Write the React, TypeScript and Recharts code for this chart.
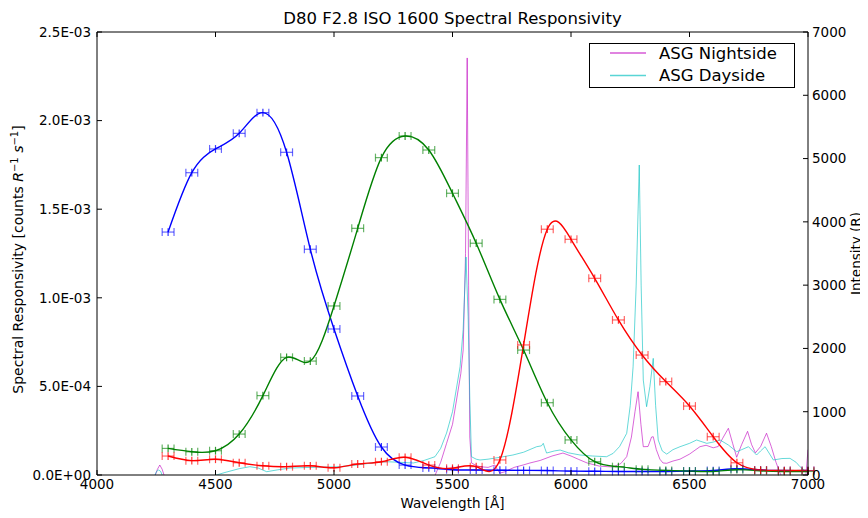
import React from "react";
import {
  ComposedChart, Line, Scatter, ErrorBar, XAxis, YAxis, Label, Legend,
} from "recharts";

const FONT = "DejaVu Sans";

// plot frame inside the 860x510 chart (page is offset by the 8px body margin)
const L = 89, R = 800, T = 24, B = 467;

// measured points, every 100 Å (responsivity in units of 1E-3)
const wavelengths = [
  4300, 4400, 4500, 4600, 4700, 4800, 4900, 5000, 5100, 5200, 5300, 5400, 5500, 5600,
  5700, 5800, 5900, 6000, 6100, 6200, 6300, 6400, 6500, 6600, 6700, 6800, 6900, 7000,
];
const blueResp = [
  1.371, 1.706, 1.84, 1.928, 2.045, 1.821, 1.274, 0.824, 0.446, 0.158, 0.056, 0.04, 0.03, 0.028,
  0.027, 0.026, 0.025, 0.022, 0.021, 0.02, 0.02, 0.02, 0.022, 0.025, 0.035, 0.028, 0.025, 0.025,
];
const greenResp = [
  0.15, 0.131, 0.137, 0.231, 0.448, 0.664, 0.643, 0.954, 1.392, 1.791, 1.913, 1.834, 1.59, 1.308,
  0.991, 0.705, 0.408, 0.198, 0.075, 0.047, 0.032, 0.026, 0.022, 0.02, 0.03, 0.024, 0.02, 0.02,
];
const redResp = [
  0.107, 0.081, 0.089, 0.069, 0.052, 0.047, 0.052, 0.041, 0.062, 0.075, 0.1, 0.056, 0.038, 0.047,
  0.085, 0.734, 1.387, 1.33, 1.11, 0.875, 0.677, 0.527, 0.389, 0.216, 0.069, 0.028, 0.025, 0.025,
];
const waveErr = 25;
const respErr = 0.022;

// airglow spectra (Rayleigh)
const nightWl = [
  4240, 4255, 4265, 4275, 4288, 4300, 5420, 5450, 5475, 5500, 5517, 5535, 5545, 5555, 5562, 5568,
  5573, 5580, 5600, 5616, 5650, 5679, 5690, 5700, 5720, 5760, 5800, 5827, 5870, 5920, 5966, 6000,
  6030, 6068, 6120, 6177, 6210, 6235, 6255, 6270, 6283, 6295, 6305, 6325, 6340, 6347, 6360, 6375,
  6388, 6404, 6430, 6460, 6500, 6544, 6570, 6600, 6621, 6640, 6664, 6682, 6699, 6720, 6745, 6762,
  6778, 6800, 6825, 6845, 6865, 6882, 6895, 6900, 6990, 7000,
];
const nightR = [
  -60, 90, 158, 90, -60, null, -60, 200, 500, 800, 1185, 1600, 1975, 3500, 6590, 3000,
  600, 190, 150, 131, 120, 158, 80, 30, 50, 120, 160, 190, 230, 300, 347, 300,
  250, 190, 140, 126, 180, 289, 600, 1000, 1316, 800, 447, 450, 600, 605, 400, 250,
  190, 185, 220, 250, 330, 447, 470, 430, 450, 580, 738, 500, 280, 480, 690, 480,
  350, 450, 660, 450, 200, 30, -60, null, -60, 400,
];
const dayWl = [
  4240, 4252, 4260, 4268, 4280, 4290, 4495, 4540, 4600, 4645, 4680, 4716, 4760, 4814, 4900, 4960,
  5025, 5100, 5160, 5222, 5280, 5335, 5380, 5426, 5450, 5475, 5500, 5532, 5545, 5557, 5566, 5573,
  5580, 5600, 5616, 5650, 5700, 5755, 5800, 5855, 5875, 5883, 5890, 5897, 5930, 5954, 5990, 6038,
  6090, 6150, 6178, 6205, 6235, 6250, 6262, 6275, 6288, 6296, 6305, 6319, 6333, 6347, 6357, 6368,
  6385, 6404, 6430, 6460, 6500, 6530, 6573, 6600, 6629, 6664, 6699, 6720, 6749, 6783, 6800, 6819,
  6854, 6890, 6924, 6950, 6966, 6990, 7000,
];
const dayR = [
  -40, 60, 79, 60, -40, null, -10, 40, 100, 131, 110, 52, 80, 110, 120, 125,
  131, 160, 190, 210, 200, 190, 230, 289, 420, 663, 1000, 1711, 2300, 3444, 2500, 1200,
  289, 250, 237, 250, 280, 316, 360, 447, 460, 500, 420, 347, 380, 395, 350, 316,
  300, 289, 342, 450, 658, 1100, 1711, 3000, 4898, 3000, 1500, 1079, 1400, 1843, 1100, 553,
  380, 330, 400, 447, 500, 553, 500, 520, 553, 474, 368, 400, 447, 316, 380, 447,
  237, 260, 263, 200, 131, 60, 50,
];

const xTicks = [4000, 4500, 5000, 5500, 6000, 6500, 7000];
const leftTicks = [0, 0.5, 1, 1.5, 2, 2.5];
const leftTickLabels = ["0.0E+00", "5.0E-04", "1.0E-03", "1.5E-03", "2.0E-03", "2.5E-03"];
const rightTicks = [0, 1000, 2000, 3000, 4000, 5000, 6000, 7000];

const legendItems = [
  { name: "ASG Nightside", color: "#bf00bf" },
  { name: "ASG Dayside", color: "#00bfbf" },
];

const toPoints = (vals: number[]) =>
  wavelengths.map((wl, i) => ({ wl, v: vals[i], ex: waveErr, ey: respErr }));
const blue = toPoints(blueResp);
const green = toPoints(greenResp);
const red = toPoints(redResp);
const night = nightWl.map((wl, i) => ({ wl, r: nightR[i] }));
const day = dayWl.map((wl, i) => ({ wl, r: dayR[i] }));

const txt = { fontFamily: FONT, fontSize: 13.5, fill: "#000" };

const BottomTick = ({ x, payload }: any) => (
  <g>
    <line x1={x} x2={x} y1={B} y2={B - 5} stroke="#000" />
    <text x={x} y={B + 14} textAnchor="middle" {...txt}>{payload.value}</text>
  </g>
);
const TopTick = ({ x }: any) => <line x1={x} x2={x} y1={T} y2={T + 5} stroke="#000" />;
const LeftTick = ({ y, index }: any) => (
  <g>
    <line x1={L} x2={L + 5} y1={y} y2={y} stroke="#000" />
    <text x={L - 6} y={y} dy="0.36em" textAnchor="end" {...txt}>{leftTickLabels[index]}</text>
  </g>
);
const RightTick = ({ y, payload }: any) => (
  <g>
    <line x1={R - 5} x2={R} y1={y} y2={y} stroke="#000" />
    <text x={R + 4} y={y} dy="0.36em" textAnchor="start" {...txt}>{payload.value}</text>
  </g>
);

const LegendBox = () => (
  <svg width={206} height={45} style={{ display: "block" }}>
    <rect x={0.5} y={0.5} width={205} height={44} fill="#fff" stroke="#000" />
    {legendItems.map((it, i) => (
      <g key={it.name}>
        <line x1={21} x2={57} y1={10 + i * 22.5} y2={10 + i * 22.5} stroke={it.color} strokeOpacity={0.65} strokeWidth={1.4} />
        <text x={70} y={10 + i * 22.5} dy="0.36em" fontFamily={FONT} fontSize={16.5} fill="#000">{it.name}</text>
      </g>
    ))}
  </svg>
);

const noDot = () => <g />;

export default function App() {
  return (
    <ComposedChart width={860} height={510} margin={{ top: 4, right: 10, bottom: 13, left: 29 }}>
      <XAxis xAxisId="b" type="number" dataKey="wl" domain={[4000, 7000]} ticks={xTicks} interval={0}
        allowDataOverflow tickLine={false} tick={BottomTick} axisLine={{ stroke: "#000" }} height={30}>
        <Label content={() => (
          <text x={(L + R) / 2} y={B + 33} textAnchor="middle" {...txt}>Wavelength [Å]</text>
        )} />
      </XAxis>
      <XAxis xAxisId="t" orientation="top" type="number" dataKey="wl" domain={[4000, 7000]} ticks={xTicks}
        interval={0} allowDataOverflow tickLine={false} tick={TopTick} axisLine={{ stroke: "#000" }} height={20}>
        <Label content={() => (
          <text x={(L + R) / 2} y={T - 8} textAnchor="middle" fontFamily={FONT} fontSize={16.5} fill="#000">
            D80 F2.8 ISO 1600 Spectral Responsivity
          </text>
        )} />
      </XAxis>
      <YAxis yAxisId="l" dataKey="v" domain={[0, 2.5]} ticks={leftTicks} interval={0} allowDataOverflow
        tickLine={false} tick={LeftTick} axisLine={{ stroke: "#000" }} width={60}>
        <Label content={() => (
          <text transform={`translate(15,${(T + B) / 2 + 6}) rotate(-90)`} textAnchor="middle" {...txt} fontSize={14}>
            <tspan>Spectral Responsivity [counts </tspan>
            <tspan fontStyle="italic">R</tspan>
            <tspan dy={-5} fontSize={10}>−1</tspan>
            <tspan dy={5}> </tspan>
            <tspan fontStyle="italic">s</tspan>
            <tspan dy={-5} fontSize={10}>−1</tspan>
            <tspan dy={5}>]</tspan>
          </text>
        )} />
      </YAxis>
      <YAxis yAxisId="r" orientation="right" dataKey="r" domain={[0, 7000]} ticks={rightTicks} interval={0}
        allowDataOverflow tickLine={false} tick={RightTick} axisLine={{ stroke: "#000" }} width={50}>
        <Label content={() => (
          <text transform={`translate(853,${(T + B) / 2}) rotate(-90)`} textAnchor="middle" {...txt}>
            Intensity (R)
          </text>
        )} />
      </YAxis>

      <Line data={night} dataKey="r" xAxisId="t" yAxisId="r" type="linear" stroke="#bf00bf"
        strokeOpacity={0.6} strokeWidth={1} dot={false} isAnimationActive={false} />
      <Line data={day} dataKey="r" xAxisId="t" yAxisId="r" type="linear" stroke="#00bfbf"
        strokeOpacity={0.6} strokeWidth={1} dot={false} isAnimationActive={false} />

      <Line data={blue} dataKey="v" xAxisId="b" yAxisId="l" type="natural" stroke="#0000ff"
        strokeWidth={1.4} dot={false} isAnimationActive={false} />
      <Line data={green} dataKey="v" xAxisId="b" yAxisId="l" type="natural" stroke="#008000"
        strokeWidth={1.4} dot={false} isAnimationActive={false} />
      <Line data={red} dataKey="v" xAxisId="b" yAxisId="l" type="natural" stroke="#ff0000"
        strokeWidth={1.4} dot={false} isAnimationActive={false} />

      {[{ d: blue, c: "#0000ff" }, { d: green, c: "#008000" }, { d: red, c: "#ff0000" }].map((s, i) => (
        <Scatter key={i} data={s.d} dataKey="v" xAxisId="b" yAxisId="l" shape={noDot} isAnimationActive={false}>
          <ErrorBar dataKey="ex" direction="x" width={4} stroke={s.c} strokeOpacity={0.6} strokeWidth={1.2} isAnimationActive={false} />
          <ErrorBar dataKey="ey" direction="y" width={0} stroke={s.c} strokeOpacity={0.8} strokeWidth={1.2} isAnimationActive={false} />
        </Scatter>
      ))}

      <Legend layout="horizontal" verticalAlign="middle" align="center" content={LegendBox}
        wrapperStyle={{ left: 581, top: 35, width: 206, height: 45 }} />
    </ComposedChart>
  );
}
